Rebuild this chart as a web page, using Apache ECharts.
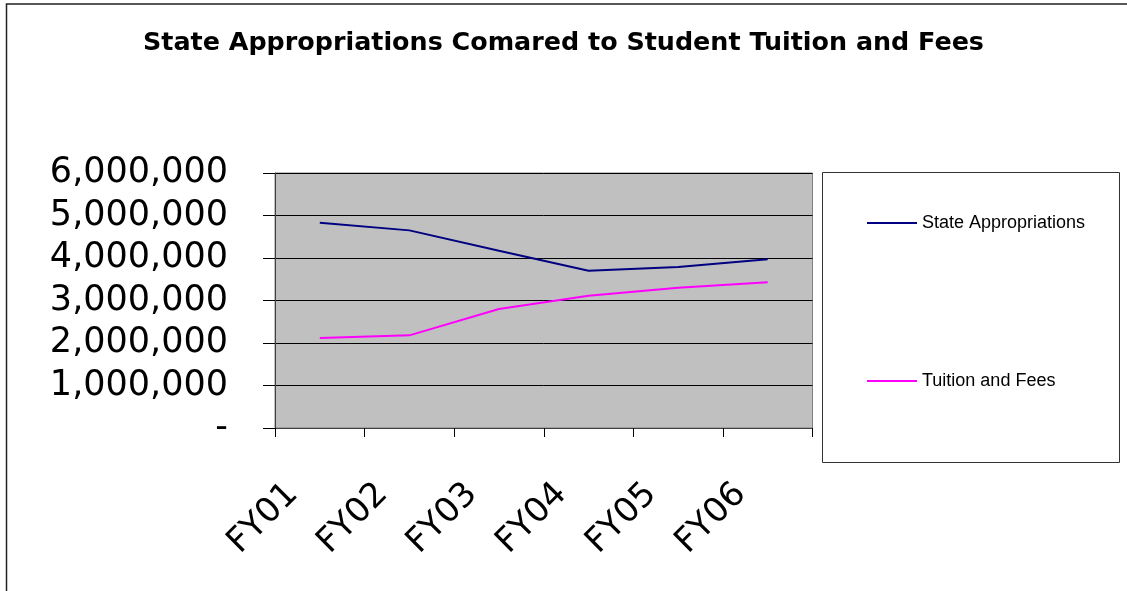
<!DOCTYPE html>
<html>
<head>
<meta charset="utf-8">
<script src="https://cdn.jsdelivr.net/npm/echarts@6/dist/echarts.min.js"></script>
<style>
  html, body { margin: 0; padding: 0; background: #fff; }
  #chart { width: 1127px; height: 591px; }
</style>
</head>
<body>
<div id="chart"></div>
<script>
  // 数据
  const categories = ['FY01', 'FY02', 'FY03', 'FY04', 'FY05', 'FY06']
  const stateAppropriations = [4830000, 4650000, 4170000, 3700000, 3790000, 3970000]
  const tuitionAndFees = [2120000, 2180000, 2800000, 3110000, 3300000, 3430000]
  const yTicks = [0, 1000000, 2000000, 3000000, 4000000, 5000000, 6000000]

  const myChart = echarts.init(document.getElementById('chart'))

  const options = {
    backgroundColor: '#fff',
    animation: false,
    title: {
      text: 'State Appropriations Comared to Student Tuition and Fees',
      left: 'center',
      top: 26,
      textStyle: {
        fontFamily: 'DejaVu Sans',
        fontWeight: 'bold',
        fontSize: 25.4,
        color: '#000'
      }
    },
    // 外框（左、上）+ 图例框
    graphic: [
      {
        type: 'rect',
        shape: { x: 6.5, y: 4, width: 1200, height: 700 },
        style: { fill: 'none', stroke: '#222', lineWidth: 1.5 },
        silent: true
      },
      {
        type: 'rect',
        shape: { x: 822.5, y: 172.5, width: 297, height: 290 },
        style: { fill: '#fff', stroke: '#333', lineWidth: 1 },
        silent: true,
        z: -1
      }
    ],
    legend: {
      orient: 'vertical',
      left: 862,
      top: 209,
      itemGap: 140,
      itemWidth: 50,
      itemHeight: 2,
      icon: 'rect',
      textStyle: {
        fontFamily: 'Liberation Sans',
        fontSize: 18,
        color: '#000'
      },
      data: ['State Appropriations', 'Tuition and Fees']
    },
    grid: {
      left: 275,
      top: 173,
      width: 537.5,
      height: 255,
      show: true,
      backgroundColor: '#c0c0c0',
      borderColor: '#808080',
      borderWidth: 1
    },
    xAxis: {
      type: 'category',
      data: categories,
      boundaryGap: true,
      axisLine: { lineStyle: { color: '#404040', width: 1 } },
      axisTick: { show: true, length: 9, lineStyle: { color: '#000' } },
      axisLabel: {
        interval: 0,
        rotate: 45,
        margin: 34,
        padding: [0, 38, 0, 0],
        fontFamily: 'DejaVu Sans',
        fontSize: 34,
        color: '#000'
      }
    },
    yAxis: {
      type: 'value',
      min: yTicks[0],
      max: yTicks[yTicks.length - 1],
      interval: 1000000,
      axisLine: { show: true, lineStyle: { color: '#404040' } },
      axisTick: { show: true, length: 12, lineStyle: { color: '#000' } },
      splitLine: { lineStyle: { color: '#000', width: 1 } },
      axisLabel: {
        margin: 47,
        fontFamily: 'DejaVu Sans',
        fontSize: 35,
        color: '#000',
        formatter: function (v) {
          return v === 0 ? '-' : v.toLocaleString('en-US')
        }
      }
    },
    series: [
      {
        name: 'State Appropriations',
        type: 'line',
        data: stateAppropriations,
        symbol: 'none',
        itemStyle: { color: '#000080' },
        lineStyle: { color: '#000080', width: 2 }
      },
      {
        name: 'Tuition and Fees',
        type: 'line',
        data: tuitionAndFees,
        symbol: 'none',
        itemStyle: { color: '#ff00ff' },
        lineStyle: { color: '#ff00ff', width: 2 }
      }
    ]
  }

  myChart.setOption(options)
</script>
</body>
</html>
